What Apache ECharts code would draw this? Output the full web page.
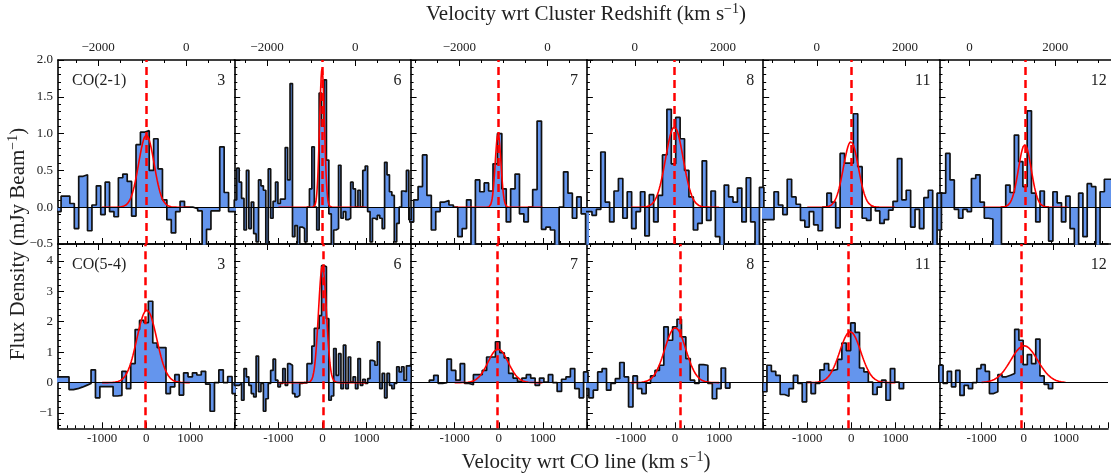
<!DOCTYPE html>
<html>
<head>
<meta charset="utf-8">
<script src="https://cdn.jsdelivr.net/npm/echarts@6/dist/echarts.min.js"></script>
<style>
  html, body { margin: 0; padding: 0; background: #fff; }
  #main { width: 1111px; height: 474px; }
</style>
</head>
<body>
<div id="main"></div>
<script>
// ---- data ----
var panelNames = ['3', '6', '7', '8', '11', '12'];
// cluster-frame velocity = line-frame velocity + shift
var clusterShift = [-912, -742, -1108, 914, 785, 1298];

// CO(2-1) spectra: first bin edge, channel width (km/s), flux per channel (mJy/beam)
var start21 = [-2030, -2000, -2030, -2085, -2055, -2055];
var width21 = [100, 55, 100, 100, 100, 100];
var flux21_3 = [-0.06, 0.15, 0.15, 0.05, -0.29, 0.42, 0.44, -0.32, 0.03, 0.29, -0.10, 0.34, -0.06, -0.13, 0.40, 0.45, 0.35, -0.12, 0.85, 1.02, 1.04, 0.50, 0.93, 0.52, 0.10, -0.17, -0.35, -0.06, 0.08, 0.00, 0.00, -0.02, -0.05, -0.60, -0.30, -0.05, -0.05, 0.82, 0.20, -0.06, -0.06];
var flux21_6 = [0.1, 0.53, 0.34, 0.12, -0.31, 0.5, -0.29, 0.07, -0.36, -0.47, 0.37, 0.29, 0.23, -0.5, 0.52, -0.15, 0.08, 0.34, 0.05, 0.11, 0.11, 0.81, 0.37, 1.68, -0.4, -0.25, -0.51, -0.27, -0.29, -0.47, 0.0, 0.25, 0.82, 0.0, -0.31, 1.55, 1.1, 1.73, 0.64, -0.09, -0.54, -0.31, -0.29, 0.57, -0.15, -0.06, -0.17, -0.15, 0.34, 0.25, 0.0, 0.23, 0.0, 0.5, 0.56, -0.06, -0.47, -0.15, -0.17, -0.11, -0.15, -0.29, 0.61, 0.44, 0.21, 0.16, -0.47, -0.22, 0.0, 0.22, 0.21, 0.5, -0.17];
var flux21_7 = [-0.2, 0.1, 0.28, 0.71, 0.16, -0.31, -0.06, 0.07, 0.09, 0.03, 0.0, -0.4, -0.29, 0.1, -0.6, 0.37, 0.21, 0.33, 0.22, 0.59, 1.0, 0.25, -0.2, 0.25, 0.45, -0.09, -0.2, 0.0, 0.24, 1.17, -0.3, -0.27, -0.31, -0.6, 0.0, 0.48, 0.19, -0.15, 0.14, -0.09, -0.6];
var flux21_8 = [-0.06, -0.06, -0.11, -0.03, 0.75, 0.07, -0.2, 0.22, 0.39, -0.15, 0.21, -0.29, -0.06, 0.21, -0.39, 0.17, -0.2, 0.16, 0.71, 1.33, 0.59, 1.22, 0.93, 0.5, 0.14, -0.31, -0.22, 0.63, -0.18, 0.22, -0.4, -0.6, 0.3, 0.14, 0.07, 0.26, -0.2, 0.4, -0.2, -0.6, 0.27];
var flux21_11 = [-0.17, -0.17, -0.17, 0.21, 0.03, -0.1, 0.38, 0.14, 0.04, -0.18, -0.27, -0.06, -0.24, -0.32, 0.0, 0.19, 0.07, -0.28, 0.73, 0.6, 0.6, 1.27, 0.55, -0.15, -0.18, 0.0, -0.05, -0.22, -0.17, -0.04, 0.08, 0.66, 0.1, 0.23, -0.27, -0.03, -0.29, 0.13, 0.23, -0.6, 0.19];
var flux21_12 = [-0.31, 0.19, 0.73, 0.37, -0.03, -0.15, -0.03, -0.06, 0.39, 0.44, 0.07, -0.15, -0.16, -0.6, -0.6, 0.0, 0.3, 0.2, 0.98, 0.62, 0.28, 1.31, 0.19, -0.2, 0.22, 0.0, -0.46, 0.21, 0.06, -0.2, 0.15, -0.29, -0.6, 0.19, -0.4, 0.32, 0.28, -0.6, 0.21, 0.38, 0.38];

// CO(5-4) spectra
var start54 = [-2050, -2000, -1575, -2055, -2015, -2015];
var width54 = [100, 55, 100, 100, 100, 100];
var flux54_3 = [0.19, 0.19, 0.19, -0.23, -0.2, -0.15, -0.09, -0.03, 0.42, -0.5, -0.13, -0.13, -0.13, -0.44, -0.42, 0.37, -0.2, 0.62, 1.74, 2.04, 1.97, 2.67, 1.3, 1.15, 1.15, -0.36, -0.14, 0.26, -0.41, 0.32, 0.19, 0.32, 0.25, 0.37, -0.05, -0.94, 0.0, 0.42, 0.0, 0.2, -0.36];
var flux54_6 = [-0.09, -0.09, -0.03, -0.58, 0.46, 0.19, -0.09, -0.36, -0.47, 0.87, -0.3, -0.03, -0.94, -0.53, -0.03, 0.4, 0.77, 0.08, -0.14, -0.03, 0.46, -0.09, 0.62, 0.57, -0.36, -0.47, -0.42, -0.03, 0.0, -0.01, 0.62, 0.62, 1.2, 1.78, 1.78, 2.2, 3.84, 3.8, 2.1, -0.58, -0.44, 1.12, 0.24, 0.95, -0.2, 1.23, -0.2, 0.84, 0.02, 0.19, -0.2, 0.79, -0.09, 0.11, -0.03, 0.13, 0.73, 0.7, 0.57, 1.34, -0.2, 0.3, -0.5, 0.3, -0.09, -0.2, -0.03, 0.52, 0.35, 0.52, 0.08, 0.55, 0.57, -0.03];
var flux54_7 = [0.08, 0.24, -0.03, 0.0, 0.77, 0.4, 0.08, 0.62, -0.03, -0.07, 0.26, 0.26, 0.4, 0.84, 0.84, 1.34, 0.98, 0.81, 0.3, 0.15, 0.04, 0.15, 0.26, 0.15, -0.09, 0.15, 0.02, 0.26, 0.0, -0.29, 0.11, 0.19, 0.46, -0.2, -0.5, 0.35];
var flux54_8 = [-0.2, -0.5, -0.25, 0.35, 0.46, -0.25, -0.03, 0.13, 0.66, 0.19, -0.8, 0.22, -0.2, -0.36, -0.02, 0.22, 0.4, 0.57, 1.83, 1.39, 1.83, 2.08, 1.5, 0.79, 0.08, -0.03, 0.59, 0.57, -0.03, -0.53, -0.2, 0.48, -0.18];
var flux54_11 = [-0.3, 0.57, 0.37, 0.24, -0.39, -0.45, -0.2, 0.24, -0.03, -0.63, 0.02, -0.36, -0.03, 0.42, 0.62, 0.4, 0.43, 0.76, 1.3, 1.05, 1.96, 1.65, 0.48, 0.35, 0.02, -0.39, -0.15, 0.08, -0.58, 0.46, 0.02, -0.2];
var flux54_12 = [0.57, -0.03, 0.37, -0.14, 0.4, -0.42, -0.09, -0.2, 0.0, 0.46, 0.59, 0.37, -0.36, -0.3, 0.26, 0.19, 0.24, 0.3, 1.75, 1.39, 0.59, 0.92, 0.62, 1.43, 0.22, -0.06, -0.2];

// Gaussian fits (peak, centre, sigma) and marked line velocity
var fitAmp21 = [0.98, 1.88, 1.0, 1.09, 0.89, 0.85];
var fitMu21 = [5, -10, -15, -15, -10, -10];
var fitSig21 = [175, 55, 65, 200, 170, 150];
var lineV21 = [0, -10, -20, -15, -10, -10];
var fitAmp54 = [2.38, 3.84, 1.10, 1.80, 1.67, 1.21];
var fitMu54 = [15, 0, -15, 5, -25, 10];
var fitSig54 = [225, 90, 230, 240, 240, 320];
var lineV54 = [-15, 15, -45, 120, -60, -65];

var flux21 = [flux21_3, flux21_6, flux21_7, flux21_8, flux21_11, flux21_12];
var flux54 = [flux54_3, flux54_6, flux54_7, flux54_8, flux54_11, flux54_12];

// ---- layout ----
var FONT = 'Liberation Serif';
var panelW = 176.3;
var rowTop = [60, 244];
var rowH = [184, 184.3];
var rowYMin = [-0.5, -1.5], rowYMax = [2.0, 4.55];
var rowMajor = [0.5, 1], rowMinor = [0.1, 0.2];

function ticks(min, max, step) {
    var out = [];
    for (var k = Math.ceil(min / step - 1e-6); k * step <= max + 1e-6; k++) out.push(+(k * step).toFixed(4));
    return out;
}
function minus(s) { return String(s).replace('-', '\u2212'); }

function histData(start, width, vals) {
    var d = [[start, 0]];
    vals.forEach(function (v, i) { d.push([start + width * i, v]); });
    d.push([start + width * vals.length, vals[vals.length - 1]]);
    d.push([start + width * vals.length, 0]);
    return d;
}
function gaussData(a, mu, sig) {
    var d = [];
    for (var x = -1000; x <= 1000; x += 10) d.push([x, a * Math.exp(-0.5 * Math.pow((x - mu) / sig, 2))]);
    return d;
}

var frameLine = { show: true, onZero: false, lineStyle: { color: '#000', width: 1.6 } };
var hiddenLine = { show: false, onZero: false };
var tickLine = { color: '#000', width: 1 };
var labelStyle = { fontFamily: FONT, fontSize: 13, color: '#222' };

var option = {
    animation: false,
    backgroundColor: '#fff',
    grid: [], xAxis: [], yAxis: [], series: [], graphic: []
};

for (var row = 0; row < 2; row++) {
    for (var col = 0; col < 6; col++) {
        var g = row * 6 + col;
        var left = 58 + col * panelW;
        option.grid.push({ left: left, top: rowTop[row], width: panelW, height: rowH[row] });

        var tMin = -2000 + clusterShift[col], tMax = 2000 + clusterShift[col];
        option.xAxis.push({
            type: 'value', gridIndex: g, position: 'bottom', min: -2000, max: 2000, interval: 1000,
            axisLine: frameLine, splitLine: { show: false },
            axisTick: { inside: true, length: 6, lineStyle: tickLine },
            minorTick: { show: true, splitNumber: 5, length: 3, lineStyle: tickLine },
            axisLabel: Object.assign({ show: row === 1, margin: 4,
                formatter: function (v) { return Math.abs(v) < 1500 ? String(v) : ''; } }, labelStyle)
        });
        option.xAxis.push({
            type: 'value', gridIndex: g, position: 'top', min: tMin, max: tMax,
            axisLine: frameLine, splitLine: { show: false },
            axisTick: { inside: true, length: 6, lineStyle: tickLine, customValues: ticks(tMin, tMax, 2000) },
            axisLabel: Object.assign({ show: row === 0, margin: 6, customValues: ticks(tMin, tMax, 2000),
                formatter: function (v) { return minus(v); } }, labelStyle)
        });
        option.xAxis.push({
            type: 'value', gridIndex: g, position: 'top', min: tMin, max: tMax,
            axisLine: hiddenLine, splitLine: { show: false },
            axisTick: { inside: true, length: 3, lineStyle: tickLine, customValues: ticks(tMin, tMax, 500) },
            axisLabel: { show: false }
        });

        var yMin = rowYMin[row], yMax = rowYMax[row];
        var majors = ticks(yMin, yMax, rowMajor[row]);
        option.yAxis.push({
            type: 'value', gridIndex: g, position: 'left', min: yMin, max: yMax,
            axisLine: frameLine, splitLine: { show: false },
            axisTick: { inside: true, length: 6, lineStyle: tickLine, customValues: majors },
            axisLabel: Object.assign({ show: col === 0, margin: 5, customValues: majors,
                formatter: row === 0 ? function (v) { return minus(v.toFixed(1)); } : function (v) { return minus(v); } }, labelStyle)
        });
        option.yAxis.push({
            type: 'value', gridIndex: g, position: 'left', min: yMin, max: yMax,
            axisLine: hiddenLine, splitLine: { show: false },
            axisTick: { inside: true, length: 3, lineStyle: tickLine, customValues: ticks(yMin, yMax, rowMinor[row]) },
            axisLabel: { show: false }
        });

        var st = row === 0 ? start21[col] : start54[col];
        var wd = row === 0 ? width21[col] : width54[col];
        var fl = row === 0 ? flux21[col] : flux54[col];
        option.series.push({
            type: 'line', xAxisIndex: 3 * g, yAxisIndex: 2 * g, step: 'end', symbol: 'none', silent: true, z: 2,
            data: histData(st, wd, fl),
            lineStyle: { color: '#111', width: 1.7 },
            areaStyle: { color: '#6495ED', opacity: 1 },
            markLine: {
                silent: true, symbol: ['none', 'none'], label: { show: false },
                lineStyle: { color: '#000', width: 1, type: 'solid' },
                data: [{ yAxis: 0 }]
            }
        });
        option.series.push({
            type: 'line', xAxisIndex: 3 * g, yAxisIndex: 2 * g, symbol: 'none', silent: true, z: 3,
            data: row === 0 ? gaussData(fitAmp21[col], fitMu21[col], fitSig21[col])
                            : gaussData(fitAmp54[col], fitMu54[col], fitSig54[col]),
            lineStyle: { color: '#ff0000', width: 1.6 },
            markLine: {
                silent: true, symbol: ['none', 'none'], label: { show: false },
                lineStyle: { color: '#ff0000', width: 2.5, type: [8, 5] },
                data: [{ xAxis: row === 0 ? lineV21[col] : lineV54[col] }]
            }
        });

        option.graphic.push({
            type: 'text', x: left + panelW - 9, y: rowTop[row] + 21, z: 10,
            style: { text: panelNames[col], font: '16px "' + FONT + '"', fill: '#222', align: 'right', verticalAlign: 'middle' }
        });
    }
}

var axisTitleRich = {
    a: { fontFamily: FONT, fontSize: 21, fill: '#222', lineHeight: 24 },
    s: { fontFamily: FONT, fontSize: 14, fill: '#222', verticalAlign: 'top' }
};
option.graphic.push(
    { type: 'text', x: 72, y: 81, z: 10,
      style: { text: 'CO(2-1)', font: '16px "' + FONT + '"', fill: '#222', align: 'left', verticalAlign: 'middle' } },
    { type: 'text', x: 72, y: 265, z: 10,
      style: { text: 'CO(5-4)', font: '16px "' + FONT + '"', fill: '#222', align: 'left', verticalAlign: 'middle' } },
    { type: 'text', x: 586, y: 14, z: 10,
      style: { text: '{a|Velocity wrt Cluster Redshift (km s}{s|\u22121}{a|)}', align: 'center', verticalAlign: 'middle', rich: axisTitleRich } },
    { type: 'text', x: 586, y: 462, z: 10,
      style: { text: '{a|Velocity wrt CO line (km s}{s|\u22121}{a|)}', align: 'center', verticalAlign: 'middle', rich: axisTitleRich } },
    { type: 'text', x: 18, y: 244, rotation: Math.PI / 2, z: 10,
      style: { text: '{a|Flux Density (mJy Beam}{s|\u22121}{a|)}', align: 'center', verticalAlign: 'middle', rich: axisTitleRich } }
);

var myChart = echarts.init(document.getElementById('main'), null, { renderer: 'canvas' });
myChart.setOption(option);
</script>
</body>
</html>
